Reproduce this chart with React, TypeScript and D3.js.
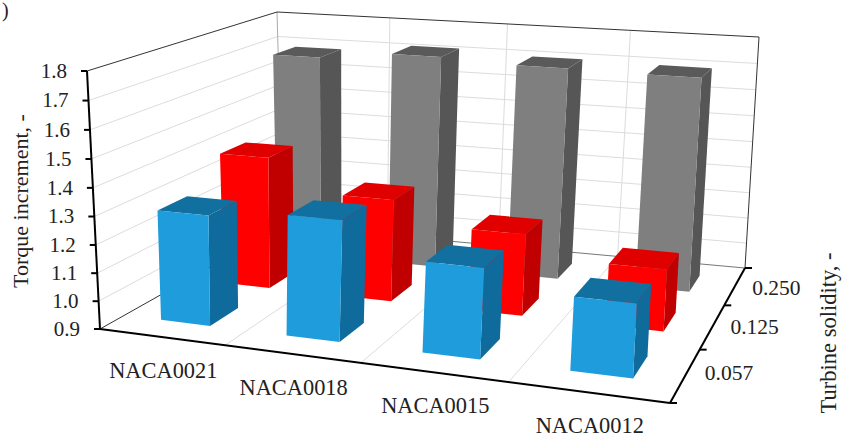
import React from "react";
import * as d3 from "d3";

const airfoils = ["NACA0021", "NACA0018", "NACA0015", "NACA0012"];
const solidities = ["0.057", "0.125", "0.250"];
const valueTicks = [0.9, 1.0, 1.1, 1.2, 1.3, 1.4, 1.5, 1.6, 1.7, 1.8];

const torque057 = [1.295, 1.323, 1.21, 1.146];
const torque125 = [1.395, 1.278, 1.197, 1.12];
const torque250 = [1.69, 1.72, 1.705, 1.7];
const seriesValues = [torque057, torque125, torque250];

const faceColors = [
  { front: "#1f9cdb", side: "#0e6b9c", top: "#11709f" },
  { front: "#ff0000", side: "#c00000", top: "#e00000" },
  { front: "#7f7f7f", side: "#565656", top: "#5a5a5a" },
];

type Pt = [number, number];
type Quad = [Pt, Pt, Pt, Pt];

// Projective map of the unit square onto a quadrilateral
function planeMap([p0, p1, p2, p3]: Quad) {
  const dx1 = p1[0] - p2[0], dx2 = p3[0] - p2[0], sx = p0[0] - p1[0] + p2[0] - p3[0];
  const dy1 = p1[1] - p2[1], dy2 = p3[1] - p2[1], sy = p0[1] - p1[1] + p2[1] - p3[1];
  const den = dx1 * dy2 - dx2 * dy1;
  const g = (sx * dy2 - dx2 * sy) / den;
  const h = (dx1 * sy - sx * dy1) / den;
  const a = p1[0] - p0[0] + g * p1[0], b = p3[0] - p0[0] + h * p3[0];
  const d = p1[1] - p0[1] + g * p1[1], e = p3[1] - p0[1] + h * p3[1];
  return (u: number, v: number): Pt => {
    const w = g * u + h * v + 1;
    return [(a * u + b * v + p0[0]) / w, (d * u + e * v + p0[1]) / w];
  };
}

// Plot box corners: front-left, front-right, back-right, back-left
const floorMap = planeMap([[100, 329], [670, 403], [745, 268], [283, 226]]);
const ceilMap = planeMap([[87, 71], [684, 110], [759, 37], [277, 12]]);

const valueScale = d3.scaleLinear().domain([0.9, 1.8]).range([0, 1]);
const uScale = d3.scaleBand<string>().domain(airfoils).range([0.002, 1.002]).paddingInner(0.6).paddingOuter(0.3);
const vScale = d3.scaleBand<string>().domain(solidities).range([0, 1]).paddingInner(0.55).paddingOuter(0.34);

const depthFactor = 1.035;
function project(u: number, v: number, value: number): Pt {
  const t = valueScale(value);
  const f = t / (t + depthFactor * (1 - t));
  const a = floorMap(u, v), b = ceilMap(u, v);
  return [a[0] + (b[0] - a[0]) * f, a[1] + (b[1] - a[1]) * f];
}

const poly = d3.line<Pt>().curve(d3.curveLinearClosed);
const seg = (a: Pt, b: Pt) => `M${a[0]},${a[1]}L${b[0]},${b[1]}`;

const serif = "'Liberation Serif', 'Times New Roman', serif";
const inkColor = "#222";
const gridColor = "#dcdcdc";

function Bar({ i, j }: { i: number; j: number }) {
  const u0 = uScale(airfoils[i])!;
  const u1 = u0 + uScale.bandwidth();
  const v0 = vScale(solidities[j])!;
  const v1 = v0 + vScale.bandwidth();
  const val = seriesValues[j][i];
  const lo = 0.9;
  const c = faceColors[j];
  return (
    <g>
      <path d={poly([project(u0, v0, val), project(u1, v0, val), project(u1, v1, val), project(u0, v1, val)])!} fill={c.top} />
      <path d={poly([project(u1, v0, lo), project(u1, v1, lo), project(u1, v1, val), project(u1, v0, val)])!} fill={c.side} />
      <path d={poly([project(u0, v0, lo), project(u1, v0, lo), project(u1, v0, val), project(u0, v0, val)])!} fill={c.front} />
    </g>
  );
}

export default function App() {
  const uEdges = d3.range(1, airfoils.length).map((k) => k / airfoils.length);
  const vEdges = d3.range(0, solidities.length + 1).map((k) => k / solidities.length);
  return (
    <svg width={842} height={441} viewBox="0 0 842 441" style={{ position: "absolute", left: 0, top: 0, background: "#fff" }}>
      {/* wall gridlines */}
      <g stroke={gridColor} strokeWidth={1} fill="none">
        {valueTicks.slice(1, -1).map((t) => (
          <path key={t} d={seg(project(0, 0, t), project(0, 1, t)) + seg(project(0, 1, t), project(1, 1, t))} />
        ))}
        {uEdges.map((u) => (
          <path key={u} d={seg(project(u, 0, 0.9), project(u, 1, 0.9)) + seg(project(u, 1, 0.9), project(u, 1, 1.8))} />
        ))}
        <path d={seg(project(0, 1, 0.9), project(0, 1, 1.8))} stroke="#aaa" />
      </g>
      {/* box outline */}
      <g fill="none" stroke="#333" strokeWidth={1}>
        <path d={seg(project(0, 0, 1.8), project(0, 1, 1.8))} />
        <path d={seg(project(0, 1, 1.8), project(1, 1, 1.8))} />
        <path d={seg(project(1, 1, 1.8), project(1, 1, 0.9))} />
        <path d={seg(project(0, 0, 0.9), project(0, 1, 0.9))} />
        <path d={seg(project(0, 1, 0.9), project(1, 1, 0.9))} stroke="#777" />
      </g>
      {/* bars, back row first */}
      {[2, 1, 0].map((j) => airfoils.map((_, i) => <Bar key={`${j}-${i}`} i={i} j={j} />))}
      {/* axes */}
      <g fill="none" stroke="#000" strokeWidth={2}>
        <path d={seg(project(0, 0, 0.9), project(0, 0, 1.8))} />
        <path d={seg(project(0, 0, 0.9), project(1, 0, 0.9))} />
        <path d={seg(project(1, 0, 0.9), project(1, 1, 0.9))} />
        {valueTicks.map((t) => {
          const p = project(0, 0, t);
          return <path key={t} d={seg([p[0] - 6, p[1]], p)} />;
        })}
        {vEdges.map((v) => {
          const p = floorMap(1, v);
          return <path key={v} d={seg(p, [p[0] + 7, p[1]])} />;
        })}
      </g>
      <g fontFamily={serif} fontSize={21} fill={inkColor}>
        {valueTicks.map((t) => {
          const p = project(0, 0, t);
          return (
            <text key={t} x={p[0] - 20} y={p[1]} dy="0.33em" textAnchor="end">
              {t.toFixed(1)}
            </text>
          );
        })}
        {airfoils.map((name) => {
          const u = uScale(name)! + uScale.bandwidth() / 2;
          const p = floorMap(u, 0);
          return (
            <text key={name} x={p[0] + 1} y={p[1] + 41} fontSize={22.4} textAnchor="middle">
              {name}
            </text>
          );
        })}
        {solidities.map((s) => {
          const v = vScale(s)! + vScale.bandwidth() / 2;
          const p = floorMap(1, v);
          return (
            <text key={s} x={p[0] + 18} y={p[1]} dy="0.33em" fontSize={21.5}>
              {s}
            </text>
          );
        })}
        <text transform="translate(28,201) rotate(-90)" textAnchor="middle" fontSize={22}>
          Torque increment, -
        </text>
        <text transform="translate(836,333) rotate(-90)" textAnchor="middle" fontSize={22.5}>
          Turbine solidity, -
        </text>
        <text x={2} y={17} fontSize={20}>)</text>
      </g>
    </svg>
  );
}
